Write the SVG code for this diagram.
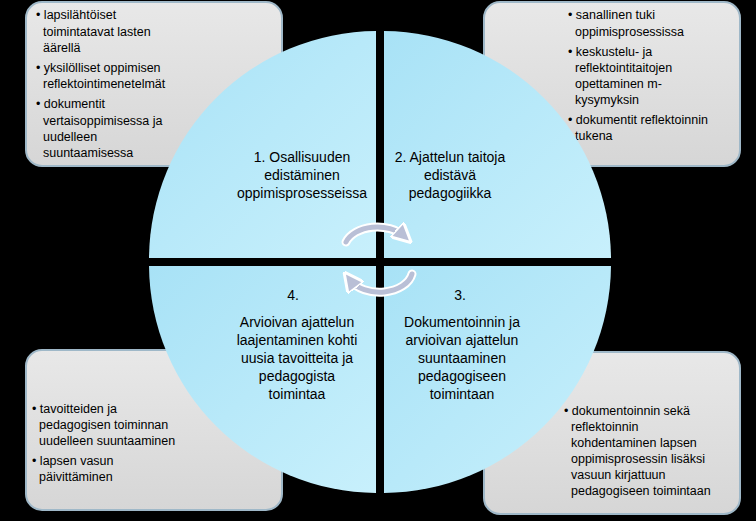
<svg xmlns="http://www.w3.org/2000/svg" width="756" height="521" viewBox="0 0 756 521">
<defs>
<linearGradient id="box" x1="0" y1="0" x2="0" y2="1"><stop offset="0" stop-color="#e8e8e8"/><stop offset="1" stop-color="#d6d6d6"/></linearGradient>
<linearGradient id="q" x1="0" y1="0" x2="1" y2="1"><stop offset="0" stop-color="#a8e2f6"/><stop offset="1" stop-color="#c8f0fc"/></linearGradient>
<marker id="ah" viewBox="0 0 10 10" refX="5" refY="5" markerWidth="4" markerHeight="4" orient="auto"><path d="M0,0 L10,5 L0,10 z" fill="#b9bfd6" stroke="#fff" stroke-width="1.5"/></marker>
</defs>
<style>
.b{fill:url(#box);stroke:#9fb8c8;stroke-width:2}
.q{fill:url(#q)}
text{font-family:"Liberation Sans",Arial,sans-serif;font-size:12.5px;fill:#000}
.c{text-anchor:middle;font-size:14px}
</style>
<rect width="756" height="521" fill="#000"/>
<g id="box1"><rect class="b" x="26" y="2" width="256" height="164" rx="16"/>
<text x="36" y="19">• lapsilähtöiset</text><text x="43" y="36">toimintatavat lasten</text><text x="43" y="52">äärellä</text>
<text x="36" y="72">• yksilölliset oppimisen</text><text x="43" y="88">reflektointimenetelmät</text>
<text x="36" y="108">• dokumentit</text><text x="43" y="125">vertaisoppimisessa ja</text><text x="43" y="141">uudelleen</text><text x="43" y="157">suuntaamisessa</text></g>
<g id="box2"><rect class="b" x="484" y="2" width="256" height="164" rx="16"/>
<text x="568" y="19">• sanallinen tuki</text><text x="575" y="36">oppimisprosessissa</text>
<text x="568" y="56">• keskustelu- ja</text><text x="575" y="72">reflektointitaitojen</text><text x="575" y="88">opettaminen m-</text><text x="575" y="104">kysymyksin</text>
<text x="568" y="124">• dokumentit reflektoinnin</text><text x="575" y="140">tukena</text></g>
<g id="box3"><rect class="b" x="26" y="350" width="256" height="160" rx="16"/>
<text x="32" y="413">• tavoitteiden ja</text><text x="39" y="429">pedagogisen toiminnan</text><text x="39" y="445">uudelleen suuntaaminen</text>
<text x="32" y="465">• lapsen vasun</text><text x="39" y="481">päivittäminen</text></g>
<g id="box4"><rect class="b" x="484" y="352" width="256" height="162" rx="16"/>
<text x="564" y="415">• dokumentoinnin sekä</text><text x="571" y="431">reflektoinnin</text><text x="571" y="447">kohdentaminen lapsen</text><text x="571" y="463">oppimisprosessin lisäksi</text><text x="571" y="479">vasuun kirjattuun</text><text x="571" y="495">pedagogiseen toimintaan</text></g>
<g id="q1"><path class="q" d="M376,258 L376,31 A229,229 0 0 0 149,258 Z"/>
<text class="c" x="302" y="162">1. Osallisuuden</text><text class="c" x="302" y="180">edistäminen</text><text class="c" x="302" y="198">oppimisprosesseissa</text></g>
<g id="q2"><path class="q" d="M384,258 L384,31 A229,229 0 0 1 611,258 Z"/>
<text class="c" x="450" y="162">2. Ajattelun taitoja</text><text class="c" x="450" y="180">edistävä</text><text class="c" x="450" y="198">pedagogiikka</text></g>
<g id="q3"><path class="q" d="M384,266 L384,493 A229,229 0 0 0 611,266 Z"/>
<text class="c" x="460" y="300">3.</text><text class="c" x="462" y="327">Dokumentoinnin ja</text><text class="c" x="462" y="345">arvioivan ajattelun</text><text class="c" x="462" y="363">suuntaaminen</text><text class="c" x="462" y="381">pedagogiseen</text><text class="c" x="462" y="399">toimintaan</text></g>
<g id="q4"><path class="q" d="M376,266 L376,493 A229,229 0 0 1 149,266 Z"/>
<text class="c" x="293" y="300">4.</text><text class="c" x="297" y="327">Arvioivan ajattelun</text><text class="c" x="297" y="345">laajentaminen kohti</text><text class="c" x="297" y="363">uusia tavoitteita ja</text><text class="c" x="297" y="381">pedagogista</text><text class="c" x="297" y="399">toimintaa</text></g>
<g id="connectors" fill="none" stroke-linecap="round">
<path d="M346,242 A33,22 0 0 1 404,236" stroke="#fff" stroke-width="9"/>
<path d="M346,242 A33,22 0 0 1 404,236" stroke="#b9bfd6" stroke-width="5" marker-end="url(#ah)"/>
<path d="M412,274 A33,22 0 0 1 350,280" stroke="#fff" stroke-width="9"/>
<path d="M412,274 A33,22 0 0 1 350,280" stroke="#b9bfd6" stroke-width="5" marker-end="url(#ah)"/>
</g>
</svg>
